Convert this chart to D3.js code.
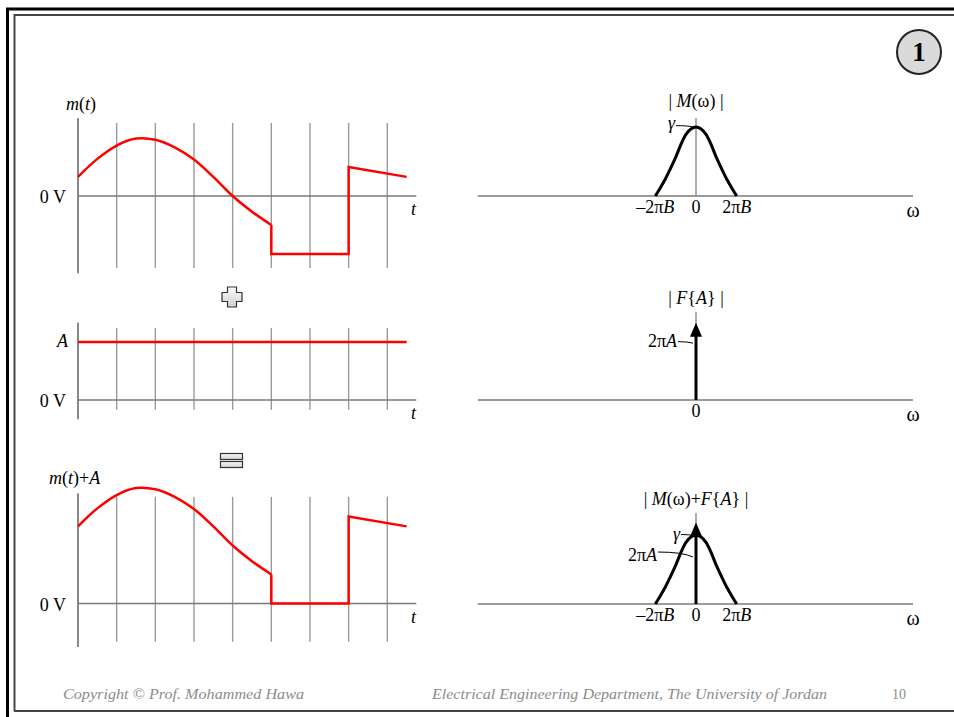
<!DOCTYPE html>
<html>
<head>
<meta charset="utf-8">
<script src="https://cdn.jsdelivr.net/npm/d3@7"></script>
<style>
body { margin: 0; background: #fff; }
svg text { font-family: "Liberation Serif", "Times New Roman", serif; }
</style>
</head>
<body>
<svg id="chart" width="954" height="717"></svg>
<script>
// ---- time domain data (t in grid units, value in units of the m(t) peak) ----
let gridT = [1, 2, 3, 4, 5, 6, 7, 8];
let smoothT = [0, 0.5, 1, 1.5, 2, 2.5, 3, 3.5, 4, 4.5, 5];
let smoothV = [0.33, 0.64, 0.87, 0.99, 0.97, 0.84, 0.63, 0.33, 0.0, -0.27, -0.5];
let pulseT = [5, 5, 7, 7, 8.5];
let pulseV = [-0.5, -1, -1, 0.5, 0.33];
let dcA = 1;
let dcT = [0, 8.5];

// ---- spectrum data (w in units of 2*pi*B, height in units of gamma) ----
let specW = [-1, -0.875, -0.75, -0.625, -0.5, -0.375, -0.25, -0.125, 0, 0.125, 0.25, 0.375, 0.5, 0.625, 0.75, 0.875, 1];
let specV = [0, 0.12, 0.25, 0.4, 0.56, 0.74, 0.89, 0.97, 1, 0.97, 0.89, 0.74, 0.56, 0.4, 0.25, 0.12, 0];
let specTickW = [-1, 0, 1];
let specTickLabels = [[["–2π", 0], ["B", 1]], [["0", 0]], [["2π", 0], ["B", 1]]];
let impulseLevel = 0.86;   // 2*pi*A
let impulseTip = [1.12, 1.18];

var svg = d3.select("#chart");
var FS = 18;

// frame
svg.append("path").attr("d", "M7.5,717 V9 H954").attr("fill", "none")
    .attr("stroke", "#000").attr("stroke-width", 3);
svg.append("path").attr("d", "M14.5,711 V15 H954 M14,711 H954").attr("fill", "none")
    .attr("stroke", "#444").attr("stroke-width", 2);

// page badge
svg.append("circle").attr("cx", 919).attr("cy", 52).attr("r", 22)
    .attr("fill", "#dadada").attr("stroke", "#222").attr("stroke-width", 2);
svg.append("text").attr("x", 919).attr("y", 61).attr("text-anchor", "middle")
    .attr("font-size", 27).attr("font-weight", "bold").text("1");

// gradient for the + and = signs
var grad = svg.append("defs").append("linearGradient").attr("id", "sym")
    .attr("x1", 0).attr("y1", 0).attr("x2", 0).attr("y2", 1);
grad.append("stop").attr("offset", "0%").attr("stop-color", "#fbfbfb");
grad.append("stop").attr("offset", "100%").attr("stop-color", "#cfcfcf");

// helper: text made of [string, italic] parts
function richText(x, y, parts, anchor, size) {
    var t = svg.append("text").attr("x", x).attr("y", y)
        .attr("text-anchor", anchor || "start").attr("font-size", size || FS);
    parts.forEach(function(p) {
        t.append("tspan").attr("font-style", p[1] ? "italic" : "normal").text(p[0]);
    });
    return t;
}

// ---------------- time-domain panels ----------------
var xT = d3.scaleLinear().domain([0, 8]).range([78, 387.3]);

function timePanel(y0, gridLo, gridHi, axLo, axHi, yLabel, labelX, labelY) {
    var y = d3.scaleLinear().domain([0, 1]).range([y0, y0 - 58]);
    svg.append("g").selectAll("line").data(gridT).enter().append("line")
        .attr("x1", xT).attr("x2", xT)
        .attr("y1", y(gridLo)).attr("y2", y(gridHi))
        .attr("stroke", "#9a9a9a").attr("stroke-width", 1.4);
    svg.append("line").attr("x1", xT(0)).attr("x2", xT(0))
        .attr("y1", y(axLo)).attr("y2", y(axHi))
        .attr("stroke", "#6a6a6a").attr("stroke-width", 1.6);
    svg.append("line").attr("x1", xT(0)).attr("x2", xT(8.75))
        .attr("y1", y(0)).attr("y2", y(0))
        .attr("stroke", "#7a7a7a").attr("stroke-width", 1.4);
    richText(66, y0 + 7, [["0 V", 0]], "end");
    richText(411, y0 + 19, [["t", 1]]);
    richText(labelX, labelY, yLabel);
    return y;
}

var line = d3.line().x(function(d) { return xT(d[0]); });

// top: m(t)
var y1 = timePanel(196, -1.24, 1.26, -1.33, 1.34, [["m", 1], ["(", 0], ["t", 1], [")", 0]], 66, 110);
svg.append("path")
    .attr("d", line.y(function(d) { return y1(d[1]); }).curve(d3.curveCatmullRom)(d3.zip(smoothT, smoothV)))
    .attr("fill", "none").attr("stroke", "red").attr("stroke-width", 2.5);
svg.append("path")
    .attr("d", line.y(function(d) { return y1(d[1]); }).curve(d3.curveLinear)(d3.zip(pulseT, pulseV)))
    .attr("fill", "none").attr("stroke", "red").attr("stroke-width", 2.5);

// middle: A
var y2 = timePanel(400, -0.17, 1.24, -0.33, 1.33, [], 0, 0);
richText(68, 347, [["A", 1]], "end");
svg.append("path")
    .attr("d", line.y(function(d) { return y2(d[1]); }).curve(d3.curveLinear)(dcT.map(function(t) { return [t, dcA]; })))
    .attr("fill", "none").attr("stroke", "red").attr("stroke-width", 2.5);

// bottom: m(t)+A
var y3 = timePanel(603.5, -0.66, 1.84, -0.75, 1.9,
    [["m", 1], ["(", 0], ["t", 1], [")+", 0], ["A", 1]], 49, 484);
svg.append("path")
    .attr("d", line.y(function(d) { return y3(d[1] + dcA); }).curve(d3.curveCatmullRom)(d3.zip(smoothT, smoothV)))
    .attr("fill", "none").attr("stroke", "red").attr("stroke-width", 2.5);
svg.append("path")
    .attr("d", line.y(function(d) { return y3(d[1] + dcA); }).curve(d3.curveLinear)(d3.zip(pulseT, pulseV)))
    .attr("fill", "none").attr("stroke", "red").attr("stroke-width", 2.5);

// plus and equals
var cx = 232, cy = 297, w = 4.5, L = 10;
svg.append("path")
    .attr("d", "M" + (cx - w) + "," + (cy - L) + " h" + 2 * w + " v" + (L - w) + " h" + (L - w) +
        " v" + 2 * w + " h" + (w - L) + " v" + (L - w) + " h" + (-2 * w) + " v" + (w - L) +
        " h" + (w - L) + " v" + (-2 * w) + " h" + (L - w) + " Z")
    .attr("fill", "url(#sym)").attr("stroke", "#333").attr("stroke-width", 1.2);
svg.append("g").selectAll("rect").data([453.5, 461.5]).enter().append("rect")
    .attr("x", 220.5).attr("y", function(d) { return d; }).attr("width", 22).attr("height", 6)
    .attr("fill", "url(#sym)").attr("stroke", "#333").attr("stroke-width", 1.2);

// ---------------- spectrum panels ----------------
var xW = d3.scaleLinear().domain([-1, 1]).range([655.3, 736.7]);

function specPanel(y0, axHi, title, titleY, ticks) {
    var y = d3.scaleLinear().domain([0, 1]).range([y0, y0 - 69]);
    svg.append("line").attr("x1", xW(-5.36)).attr("x2", xW(5.33))
        .attr("y1", y0).attr("y2", y0).attr("stroke", "#7a7a7a").attr("stroke-width", 1.4);
    svg.append("line").attr("x1", xW(0)).attr("x2", xW(0))
        .attr("y1", y0).attr("y2", y(axHi)).attr("stroke", "#8a8a8a").attr("stroke-width", 1.4);
    richText(xW(0), titleY, title, "middle");
    richText(913, y0 + 21, [["ω", 0]], "middle", 20);
    ticks.forEach(function(i) {
        richText(xW(specTickW[i]), y0 + 17, specTickLabels[i], "middle");
    });
    return y;
}

function drawSpectrum(y) {
    svg.append("path")
        .attr("d", d3.line().x(function(d) { return xW(d[0]); }).y(function(d) { return y(d[1]); })
            .curve(d3.curveCatmullRom)(d3.zip(specW, specV)))
        .attr("fill", "none").attr("stroke", "#000").attr("stroke-width", 3);
}

function drawImpulse(y, tip) {
    svg.append("line").attr("x1", xW(0)).attr("x2", xW(0))
        .attr("y1", y(0)).attr("y2", y(tip) + 12)
        .attr("stroke", "#000").attr("stroke-width", 3);
    var tx = xW(0), ty = y(tip);
    svg.append("path").attr("d", "M" + tx + "," + ty + " L" + (tx + 6) + "," + (ty + 14) +
        " L" + (tx - 6) + "," + (ty + 14) + " Z").attr("fill", "#000");
}

function leader(x1, yy1, x2, yy2) {
    svg.append("path")
        .attr("d", "M" + x1 + "," + yy1 + " Q" + (x1 + (x2 - x1) * 0.7) + "," + yy1 + " " + x2 + "," + yy2)
        .attr("fill", "none").attr("stroke", "#000").attr("stroke-width", 1);
}

// top: |M(w)|
var s1 = specPanel(196, 1.13, [["| ", 0], ["M", 1], ["(ω)", 0], [" |", 0]], 107, [0, 1, 2]);
drawSpectrum(s1);
richText(675, 129, [["γ", 1]], "end");
leader(676, s1(1.02), 693, s1(1.0));

// middle: |F{A}|
var s2 = specPanel(400, 1.28, [["| ", 0], ["F", 1], ["{", 0], ["A", 1], ["}", 0], [" |", 0]], 304, [1]);
drawImpulse(s2, impulseTip[0]);
richText(677, 347, [["2π", 0], ["A", 1]], "end");
leader(678, s2(impulseLevel) + 1, 693, s2(impulseLevel) + 2.5);

// bottom: |M(w)+F{A}|
var s3 = specPanel(604, 1.32,
    [["| ", 0], ["M", 1], ["(ω)+", 0], ["F", 1], ["{", 0], ["A", 1], ["}", 0], [" |", 0]], 505, [0, 1, 2]);
drawSpectrum(s3);
drawImpulse(s3, impulseTip[1]);
richText(680, 540, [["γ", 1]], "end");
leader(681, s3(1.0) - 0.5, 693, s3(1.0) + 0.5);
richText(657, 561, [["2π", 0], ["A", 1]], "end");
leader(658, 552, 693, 557);

// footer
svg.append("text").attr("x", 63).attr("y", 699).attr("font-size", 15).attr("font-style", "italic")
    .attr("fill", "#8c8c8c").attr("textLength", 241).attr("lengthAdjust", "spacingAndGlyphs")
    .text("Copyright © Prof. Mohammed Hawa");
svg.append("text").attr("x", 432).attr("y", 699).attr("font-size", 15).attr("font-style", "italic")
    .attr("fill", "#8c8c8c").attr("textLength", 395).attr("lengthAdjust", "spacingAndGlyphs")
    .text("Electrical Engineering Department, The University of Jordan");
svg.append("text").attr("x", 892).attr("y", 699).attr("font-size", 14)
    .attr("fill", "#8c8c8c").text("10");
</script>
</body>
</html>
